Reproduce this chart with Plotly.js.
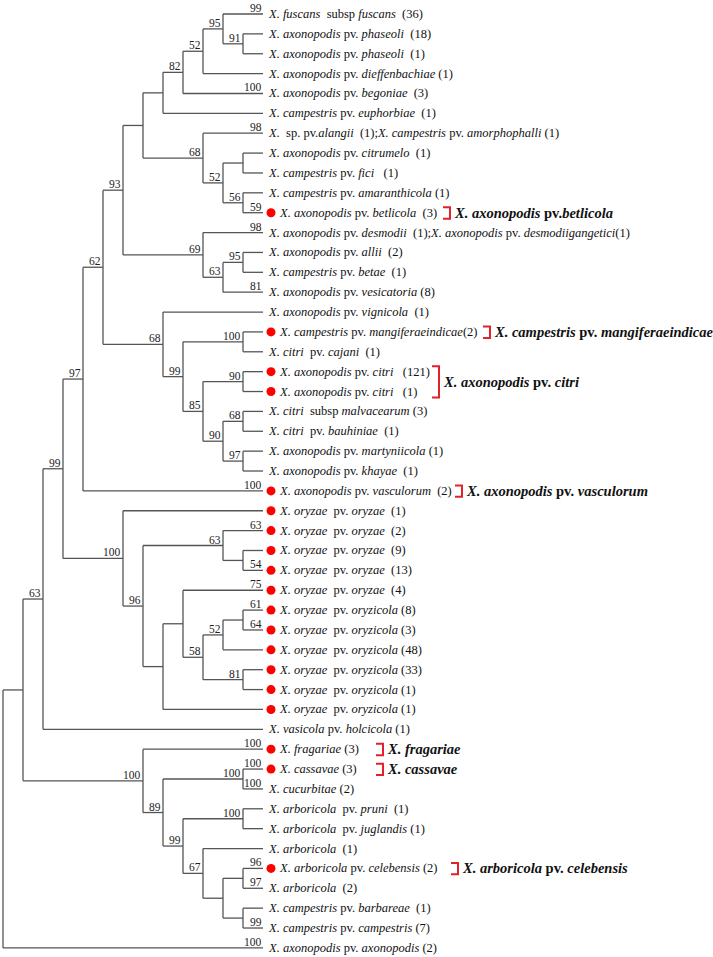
<!DOCTYPE html>
<html>
<head>
<meta charset="utf-8">
<script src="https://cdn.plot.ly/plotly-3.0.1.min.js"></script>
<style>html,body{margin:0;padding:0;background:#fff;}#chart{width:713px;height:957px;}</style>
</head>
<body>
<div id="chart"></div>
<script>
// ---------------- DATA ----------------
// Leaf labels (top to bottom), leaf index = position in the list
const leafNames = [
  "<i>X. fuscans</i>  subsp <i>fuscans</i>  (36)",
  "<i>X. axonopodis</i> pv. <i>phaseoli</i>  (18)",
  "<i>X. axonopodis</i> pv. <i>phaseoli</i>  (1)",
  "<i>X. axonopodis</i> pv. <i>dieffenbachiae</i> (1)",
  "<i>X. axonopodis</i> pv. <i>begoniae</i>  (3)",
  "<i>X. campestris</i> pv. <i>euphorbiae</i>  (1)",
  "<i>X.</i>  sp. pv.<i>alangii</i>  (1);<i>X. campestris</i> pv. <i>amorphophalli</i> (1)",
  "<i>X. axonopodis</i> pv. <i>citrumelo</i>  (1)",
  "<i>X. campestris</i> pv. <i>fici</i>   (1)",
  "<i>X. campestris</i> pv. <i>amaranthicola</i> (1)",
  "<i>X. axonopodis</i> pv. <i>betlicola</i>  (3)",
  "<i>X. axonopodis</i> pv. <i>desmodii</i>  (1);<i>X. axonopodis</i> pv. <i>desmodiigangetici</i>(1)",
  "<i>X. axonopodis</i> pv. <i>allii</i>  (2)",
  "<i>X. campestris</i> pv. <i>betae</i>  (1)",
  "<i>X. axonopodis</i> pv. <i>vesicatoria</i> (8)",
  "<i>X. axonopodis</i> pv. <i>vignicola</i>  (1)",
  "<i>X. campestris</i> pv. <i>mangiferaeindicae</i>(2)",
  "<i>X. citri</i>  pv. <i>cajani</i>  (1)",
  "<i>X. axonopodis</i> pv. <i>citri</i>   (121)",
  "<i>X. axonopodis</i> pv. <i>citri</i>   (1)",
  "<i>X. citri</i>  subsp <i>malvacearum</i> (3)",
  "<i>X. citri</i>  pv. <i>bauhiniae</i>  (1)",
  "<i>X. axonopodis</i> pv. <i>martyniicola</i> (1)",
  "<i>X. axonopodis</i> pv. <i>khayae</i>  (1)",
  "<i>X. axonopodis</i> pv. <i>vasculorum</i>  (2)",
  "<i>X. oryzae</i>  pv. <i>oryzae</i>  (1)",
  "<i>X. oryzae</i>  pv. <i>oryzae</i>  (2)",
  "<i>X. oryzae</i>  pv. <i>oryzae</i>  (9)",
  "<i>X. oryzae</i>  pv. <i>oryzae</i>  (13)",
  "<i>X. oryzae</i>  pv. <i>oryzae</i>  (4)",
  "<i>X. oryzae</i>  pv. <i>oryzicola</i> (8)",
  "<i>X. oryzae</i>  pv. <i>oryzicola</i> (3)",
  "<i>X. oryzae</i>  pv. <i>oryzicola</i> (48)",
  "<i>X. oryzae</i>  pv. <i>oryzicola</i> (33)",
  "<i>X. oryzae</i>  pv. <i>oryzicola</i> (1)",
  "<i>X. oryzae</i>  pv. <i>oryzicola</i> (1)",
  "<i>X. vasicola</i> pv. <i>holcicola</i> (1)",
  "<i>X. fragariae</i> (3)",
  "<i>X. cassavae</i> (3)",
  "<i>X. cucurbitae</i> (2)",
  "<i>X. arboricola</i>  pv. <i>pruni</i>  (1)",
  "<i>X. arboricola</i>  pv. <i>juglandis</i> (1)",
  "<i>X. arboricola</i>  (1)",
  "<i>X. arboricola</i> pv. <i>celebensis</i> (2)",
  "<i>X. arboricola</i>  (2)",
  "<i>X. campestris</i> pv. <i>barbareae</i>  (1)",
  "<i>X. campestris</i> pv. <i>campestris</i> (7)",
  "<i>X. axonopodis</i> pv. <i>axonopodis</i> (2)"
];
// Bootstrap values written on terminal branches (leaf index -> value)
const leafBootIdx = [0, 4, 6, 10, 11, 14, 24, 26, 28, 29, 30, 31, 37, 38, 39, 43, 44, 46, 47];
const leafBootVal = [99, 100, 98, 59, 98, 81, 100, 63, 54, 75, 61, 64, 100, 100, 100, 96, 97, 99, 100];
// Leaves marked with a red dot
const markedLeaves = [10, 16, 18, 19, 24, 25, 26, 27, 28, 29, 30, 31, 32, 33, 34, 35, 37, 38, 43];

// Tree topology (Newick, leaves = leaf index, internal labels = bootstrap)
const cladeUpper = "((((((0,(1,2)91)95,3)52,4)82,5),(6,((7,8),(9,10)56)52)68),(11,((12,13)95,14)63)69)93";
const cladeCitri = "(15,((16,17)100,((18,19)90,((20,21)68,(22,23)97)90)85)99)68";
const cladeOryzae = "(25,((26,(27,28))63,((29,(((30,31),32)52,(33,34)81)58),35))96)100";
const cladeArbor = "(37,((38,39)100,((40,41)100,(42,((43,44),(45,46)))67)99)89)100";
const newick = "((((((" + cladeUpper + "," + cladeCitri + ")62,24)97," + cladeOryzae + ")99,36)63," + cladeArbor + "),47)";

// Highlighted groups (bold labels with red brackets)
const groupLabels = [
  "<b><i>X. axonopodis</i> pv.<i>betlicola</i></b>",
  "<b><i>X. campestris</i> pv. <i>mangiferaeindicae</i></b>",
  "<b><i>X. axonopodis</i> pv. <i>citri</i></b>",
  "<b><i>X. axonopodis</i> pv. <i>vasculorum</i></b>",
  "<b><i>X. fragariae</i></b>",
  "<b><i>X. cassavae</i></b>",
  "<b><i>X. arboricola</i> pv. <i>celebensis</i></b>"
];
const groupFirst = [10, 16, 18, 24, 37, 38, 43];
const groupLast  = [10, 16, 19, 24, 37, 38, 43];

// ---------------- STYLE / POSITION ----------------
const W = 713, H = 957;
const pxPerLevel = 20;         // horizontal spacing between cladogram levels
const rootPx = 3;              // pixel x of root
const topPx = 14, rowPx = 19.87; // y of first leaf & leaf spacing
const bracketOffsetPx = [180, 220, 169, 192, 113, 113, 188]; // from tips
const bracketW = 7;
const serif = "Liberation Serif, Times New Roman, serif";
const branchColor = "#555555";
const red = "#ff0000";
const bracketRed = "#e3212b";

// ---------------- TREE LAYOUT ----------------
function parseNewick(s) {
  let i = 0;
  function node() {
    if (s[i] === '(') {
      i++;
      const ch = [node()];
      while (s[i] === ',') { i++; ch.push(node()); }
      i++; // ')'
      let lab = '';
      while (i < s.length && /[0-9]/.test(s[i])) lab += s[i++];
      return { children: ch, label: lab };
    }
    let n = '';
    while (i < s.length && /[0-9]/.test(s[i])) n += s[i++];
    return { leaf: parseInt(n, 10) };
  }
  return node();
}
const root = parseNewick(newick);
function setHeight(n) {
  if (n.children) { n.h = 1 + Math.max(...n.children.map(setHeight)); }
  else { n.h = 0; n.y = n.leaf; }
  return n.h;
}
const maxH = setHeight(root);
function setPos(n) {
  n.x = maxH - n.h;
  if (n.children) {
    n.children.forEach(setPos);
    n.y = (n.children[0].y + n.children[n.children.length - 1].y) / 2;
  }
}
setPos(root);

const lx = [], ly = [];
const annotations = [];
const bootFont = { family: serif, size: 11.5, color: "#222" };
function walk(n) {
  if (!n.children) return;
  const c0 = n.children[0], c1 = n.children[n.children.length - 1];
  lx.push(n.x, n.x, null); ly.push(c0.y, c1.y, null);
  n.children.forEach(c => {
    lx.push(n.x, c.x, null); ly.push(c.y, c.y, null);
    walk(c);
  });
  if (n.label) {
    annotations.push({ x: n.x, y: n.y, xref: 'x', yref: 'y', text: n.label, showarrow: false,
      xanchor: 'right', yanchor: 'bottom', xshift: 0, yshift: -2, font: bootFont });
  }
}
walk(root);

// leaf bootstrap labels
leafBootIdx.forEach((li, k) => {
  annotations.push({ x: maxH, y: li, xref: 'x', yref: 'y', text: String(leafBootVal[k]), showarrow: false,
    xanchor: 'right', yanchor: 'bottom', xshift: 1, yshift: -2, font: bootFont });
});

// leaf labels
const dotOffset = 8 / pxPerLevel;
leafNames.forEach((t, i) => {
  const marked = markedLeaves.includes(i);
  annotations.push({ x: maxH, y: i, xref: 'x', yref: 'y', text: t, showarrow: false,
    xanchor: 'left', yanchor: 'middle', xshift: marked ? 14 : 3, yshift: 0,
    font: { family: serif, size: 12.5, color: "#111" } });
});

// brackets
const bx = [], by = [];
groupLabels.forEach((t, g) => {
  const x0 = maxH + bracketOffsetPx[g] / pxPerLevel;
  const x1 = x0 + bracketW / pxPerLevel;
  const y0 = groupFirst[g] - 0.27, y1 = groupLast[g] + 0.3;
  bx.push(x0, x1, x1, x0, null); by.push(y0, y0, y1, y1, null);
  annotations.push({ x: x1, y: (groupFirst[g] + groupLast[g]) / 2, xref: 'x', yref: 'y', text: t,
    showarrow: false, xanchor: 'left', yanchor: 'middle', xshift: 2, yshift: 0,
    font: { family: serif, size: 14.5, color: "#111" } });
});

const traces = [
  { x: lx, y: ly, mode: 'lines', type: 'scatter', line: { color: branchColor, width: 1.3 },
    hoverinfo: 'skip', showlegend: false },
  { x: markedLeaves.map(() => maxH + dotOffset), y: markedLeaves, mode: 'markers', type: 'scatter',
    marker: { color: red, size: 9 }, hoverinfo: 'skip', showlegend: false },
  { x: bx, y: by, mode: 'lines', type: 'scatter', line: { color: bracketRed, width: 2 },
    hoverinfo: 'skip', showlegend: false }
];

const xMin = -rootPx / pxPerLevel;
const xMax = xMin + W / pxPerLevel;
const yMin = -topPx / rowPx;
const yMax = yMin + H / rowPx;

const layout = {
  width: W, height: H,
  margin: { l: 0, r: 0, t: 0, b: 0 },
  paper_bgcolor: '#fff', plot_bgcolor: '#fff',
  xaxis: { range: [xMin, xMax], visible: false, fixedrange: true },
  yaxis: { range: [yMax, yMin], visible: false, fixedrange: true },
  annotations: annotations,
  showlegend: false
};
Plotly.newPlot('chart', traces, layout, { staticPlot: true, displayModeBar: false });
</script>
</body>
</html>
